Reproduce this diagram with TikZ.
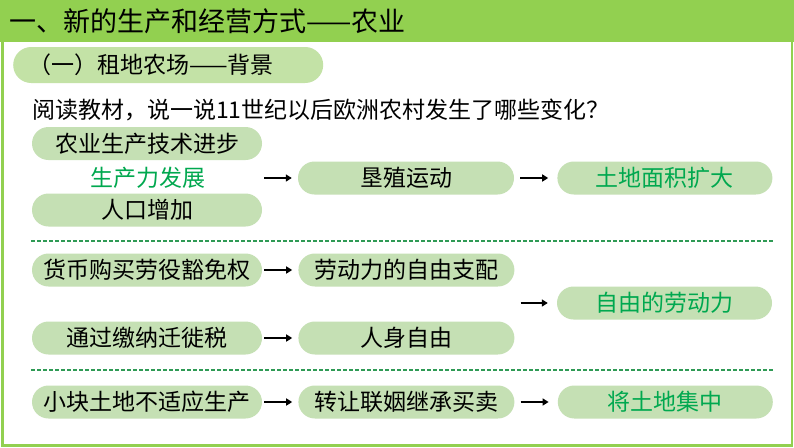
\documentclass[tikz,border=0pt]{standalone}
\usepackage{fontspec}
\newfontfamily\cjk{Noto Sans CJK SC}
\usetikzlibrary{positioning,arrows.meta}

\definecolor{bandgreen}{HTML}{92D050}
\definecolor{pillgreen}{HTML}{C5E0B4}
\definecolor{subgreen}{HTML}{C3E2A6}
\definecolor{keygreen}{HTML}{00A84F}
\definecolor{rulegreen}{HTML}{2F9A55}

\begin{document}
\begin{tikzpicture}[
    x=1pt, y=-1pt,
    font=\cjk\fontsize{23}{23}\selectfont,
    >={Triangle[length=6pt,width=7pt]},
    node distance=36pt,
    pill/.style   ={rectangle, rounded corners=16.5pt, fill=pillgreen,
                    minimum height=33pt, inner sep=0pt},
    cause/.style  ={pill, minimum width=230pt},
    midbox/.style ={pill, minimum width=216pt},
    result/.style ={pill, minimum width=215pt, text=keygreen},
    subhead/.style={rectangle, rounded corners=18pt, fill=subgreen,
                    minimum height=36pt, text width=280pt, inner xsep=15pt,
                    inner ysep=0pt, align=left},
    link/.style   ={->, line width=2.2pt, shorten <=2pt, shorten >=6pt},
    longlink/.style={link, shorten <=6pt, shorten >=9pt},
    sep/.style    ={rulegreen, line width=1.3pt, dash pattern=on 4pt off 2pt},
  ]

  % ------------------------------------------------------------ frame ---
  \useasboundingbox (0,0) rectangle (794,447);
  \fill[white] (0,0) rectangle (794,447);
  \fill[bandgreen] (0,0) rectangle (794,42);
  \draw[bandgreen, line width=2.5pt] (2.5,42) -- (2.5,445.5) -- (792,445.5) -- (792,42);

  \node[anchor=west, inner sep=0pt, font=\cjk\fontsize{27}{27}\selectfont]
        (title) at (9,21) {一、新的生产和经营方式——农业};
  \node[subhead, anchor=west] (sub) at (13,65) {（一）租地农场——背景};
  \node[anchor=west, inner sep=0pt] (ask) at (32,110)
        {阅读教材，说一说11世纪以后欧洲农村发生了哪些变化？};

  % ------------------------------------------------------------ row 1 ---
  \node[cause] (tech) at (147,143.5) {农业生产技术进步};
  \node[text=keygreen, inner sep=0pt] (growth) at (148,178) {生产力发展};
  \node[cause] (pop) at (147,210) {人口增加};
  \node[midbox] (reclaim) at (406,178) {垦殖运动};
  \node[result, right=43pt of reclaim] (land) {土地面积扩大};

  \coordinate (rule1) at (31,241);
  \draw[sep] (rule1) -- (rule1 -| land.east);

  % ------------------------------------------------------------ row 2 ---
  \node[cause] (money) at (147,270) {货币购买劳役豁免权};
  \node[midbox, right=of money] (labor) {劳动力的自由支配};
  \node[cause] (tax) at (147,338) {通过缴纳迁徙税};
  \node[midbox, right=of tax] (person) {人身自由};
  \node[result] (freelabor) at (664.5,303) {自由的劳动力};

  \coordinate (rule2) at (31,370);
  \draw[sep] (rule2) -- (rule2 -| land.east);

  % ------------------------------------------------------------ row 3 ---
  \node[cause] (plot) at (147,402) {小块土地不适应生产};
  \node[midbox, right=of plot] (transfer) {转让联姻继承买卖};
  \node[result, right=43pt of transfer] (gather) {将土地集中};

  % ============================================================ edges ===
  \draw[link] (reclaim.west -| tech.east) -- (reclaim.west);
  \draw[longlink] (reclaim) -- (land);
  \draw[link] (money) -- (labor);
  \draw[link] (tax) -- (person);
  \draw[longlink] (freelabor.west -| labor.east) -- (freelabor.west);
  \draw[link] (plot) -- (transfer);
  \draw[longlink] (transfer) -- (gather);

\end{tikzpicture}
\end{document}
